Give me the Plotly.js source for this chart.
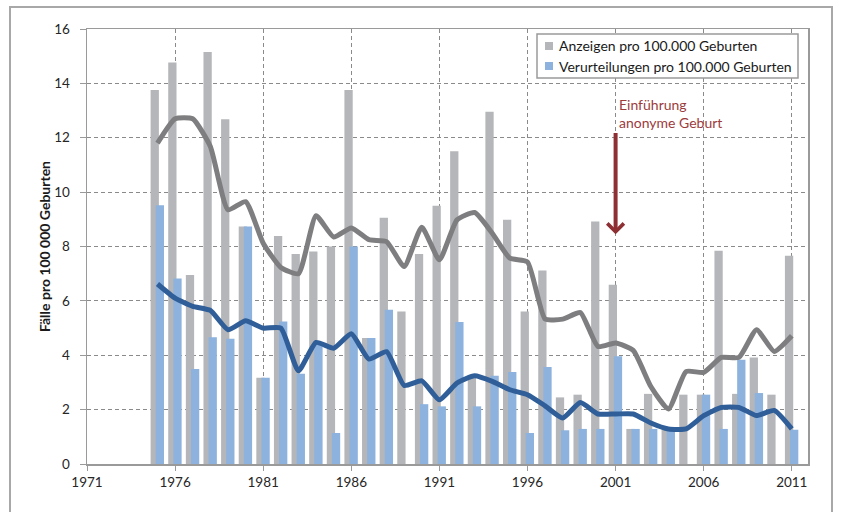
<!DOCTYPE html>
<html>
<head>
<meta charset="utf-8">
<script src="https://cdn.plot.ly/plotly-3.0.1.min.js"></script>
<style>
  html, body { margin: 0; padding: 0; background: #ffffff; }
  #wrap { position: relative; width: 843px; height: 512px; overflow: hidden; }
  #chart { width: 843px; height: 512px; }
  #frame { position: absolute; left: 9px; top: 6px; width: 824px; height: 540px;
           border: 2px solid #a8a8a8; pointer-events: none; box-sizing: border-box; }
</style>
</head>
<body>
<div id="wrap">
  <div id="chart"></div>
  <div id="frame"></div>
</div>
<script>
const years = [1975,1976,1977,1978,1979,1980,1981,1982,1983,1984,1985,1986,1987,1988,1989,1990,1991,1992,1993,1994,1995,1996,1997,1998,1999,2000,2001,2002,2003,2004,2005,2006,2007,2008,2009,2010,2011];

const anzeigen = [13.76,14.77,6.95,15.15,12.68,8.74,3.17,8.39,7.72,7.82,8.0,13.76,4.63,9.06,5.61,7.72,9.5,11.5,3.2,12.96,8.98,5.61,7.12,2.45,2.55,8.92,6.59,1.29,2.58,1.29,2.55,2.55,7.84,2.58,3.92,2.55,7.66];

const verurteilungen = [9.52,6.82,3.49,4.66,4.61,8.74,3.17,5.24,3.32,4.45,1.14,8.0,4.63,5.67,null,2.2,2.12,5.22,2.12,3.25,3.38,1.14,3.57,1.24,1.29,1.29,3.96,1.29,1.29,1.27,null,2.55,1.29,3.83,2.61,null,1.26];

const anzeigenTrend = [11.8,12.7,12.7,11.68,9.35,9.65,8.12,7.23,7.0,9.13,8.35,8.68,8.25,8.18,7.26,8.71,7.51,8.98,9.25,8.49,7.57,7.43,5.33,5.33,5.57,4.32,4.45,4.18,2.85,2.02,3.4,3.37,3.92,3.92,4.94,4.14,4.72];

const verurteilungenTrend = [6.62,6.1,5.8,5.65,4.94,5.27,5.0,5.0,3.43,4.47,4.26,4.79,3.86,4.13,2.89,3.06,2.36,2.98,3.25,3.04,2.73,2.55,2.14,1.69,2.26,1.84,1.84,1.84,1.51,1.29,1.29,1.78,2.08,2.08,1.78,1.97,1.29];

const seriesNames = ["Anzeigen pro 100.000 Geburten", "Verurteilungen pro 100.000 Geburten"];
const yTitle = "Fälle pro 100 000 Geburten";
const noteText = "Einführung<br>anonyme Geburt";
const noteYear = 2001;

const FONT = "Lato, 'Open Sans', sans-serif";
const cGrayBar = "#b4b6b9";
const cBlueBar = "#8cb2dd";
const cGrayLine = "#7e7e80";
const cBlueLine = "#2f5e98";
const cNote = "#9c3b3c";

const traces = [
  { type: "bar", x: years, y: anzeigen, name: seriesNames[0],
    marker: { color: cGrayBar }, width: 0.47, offset: -0.39, showlegend: false },
  { type: "bar", x: years, y: verurteilungen, name: seriesNames[1],
    marker: { color: cBlueBar }, width: 0.47, offset: -0.1, showlegend: false },
  { type: "scatter", mode: "lines", x: years, y: anzeigenTrend, showlegend: false,
    line: { color: cGrayLine, width: 5, shape: "spline", smoothing: 0.5 } },
  { type: "scatter", mode: "lines", x: years, y: verurteilungenTrend, showlegend: false,
    line: { color: cBlueLine, width: 5, shape: "spline", smoothing: 0.5 } }
];

// plot area in pixels: x 87..808, y 29..464
const L = 87, R = 808, T = 29, B = 464;
const px = v => (v - L) / (R - L);
const py = v => (B - v) / (B - T);

const shapes = [
  { type: "rect", xref: "paper", yref: "paper", x0: px(537), x1: px(798), y0: py(78), y1: py(34),
    line: { color: "#9a9a9a", width: 1.5 }, fillcolor: "#ffffff", layer: "above" },
  { type: "rect", xref: "paper", yref: "paper", x0: px(545), x1: px(553), y0: py(50), y1: py(42),
    line: { width: 0 }, fillcolor: cGrayBar, layer: "above" },
  { type: "rect", xref: "paper", yref: "paper", x0: px(545), x1: px(553), y0: py(70), y1: py(62),
    line: { width: 0 }, fillcolor: cBlueBar, layer: "above" }
];

const annotations = [
  { xref: "paper", yref: "paper", x: px(557), y: py(45.5), xanchor: "left", yanchor: "middle",
    text: seriesNames[0], showarrow: false, font: { family: FONT, size: 14, color: "#1a1a1a" } },
  { xref: "paper", yref: "paper", x: px(557), y: py(66), xanchor: "left", yanchor: "middle",
    text: seriesNames[1], showarrow: false, font: { family: FONT, size: 14, color: "#1a1a1a" } },
  { xref: "x", yref: "y", x: noteYear + 0.1, y: 12.88, xanchor: "left", yanchor: "middle", align: "left",
    text: noteText, showarrow: false, font: { family: FONT, size: 14, color: cNote } },
  { xref: "x", yref: "y", axref: "x", ayref: "y", x: noteYear, y: 8.45, ax: noteYear, ay: 12.23,
    text: "", showarrow: true, arrowhead: 4, arrowsize: 0.8, arrowwidth: 4, arrowcolor: "#8e2f33" }
];

const layout = {
  width: 843, height: 512,
  margin: { l: L, r: 843 - R, t: T, b: 512 - B, pad: 0 },
  paper_bgcolor: "#ffffff", plot_bgcolor: "#ffffff",
  barmode: "overlay",
  showlegend: false,
  font: { family: FONT, size: 13.5, color: "#262626" },
  xaxis: {
    range: [1971, 2011.92], tick0: 1971, dtick: 5, tickmode: "linear",
    showgrid: true, gridcolor: "#8a8a8a", griddash: "4px,3px", gridwidth: 1,
    showline: true, linecolor: "#9a9a9a", linewidth: 1.5, mirror: true,
    ticks: "outside", ticklen: 5, tickcolor: "#9a9a9a", zeroline: false,
    tickfont: { family: FONT, size: 13.5, color: "#262626" }
  },
  yaxis: {
    range: [0, 16], dtick: 2, tick0: 0,
    showgrid: true, gridcolor: "#8a8a8a", griddash: "4px,3px", gridwidth: 1,
    showline: true, linecolor: "#9a9a9a", linewidth: 1.5, mirror: true,
    ticks: "outside", ticklen: 6, tickcolor: "#9a9a9a", zeroline: false,
    ticklabelstandoff: 7,
    tickfont: { family: FONT, size: 13.5, color: "#262626" },
    title: { text: yTitle, standoff: 0, font: { family: FONT, size: 14, color: "#1a1a1a", weight: "bold" } }
  },
  shapes: shapes,
  annotations: annotations
};

Plotly.newPlot("chart", traces, layout, { displayModeBar: false, staticPlot: true });
</script>
</body>
</html>
